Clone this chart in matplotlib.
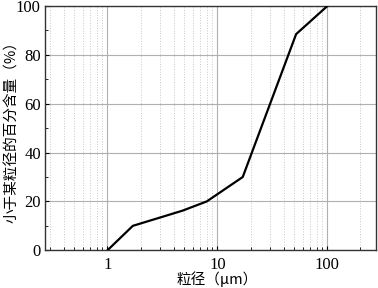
import matplotlib
matplotlib.use("Agg")
import matplotlib.pyplot as plt
from matplotlib.ticker import LogLocator, FixedLocator, NullFormatter, FixedFormatter

size_um = [1, 1.7, 4.8, 8, 17, 52, 100]
percent = [0, 10, 16.2, 20, 30, 88.5, 100]
x_ticks = [1, 10, 100]
x_tick_labels = ["1", "10", "100"]
y_ticks = [0, 20, 40, 60, 80, 100]
y_tick_labels = ["0", "20", "40", "60", "80", "100"]
x_label = "粒径（μm）"
y_label = "小于某粒径的百分含量（%）"

fig = plt.figure(figsize=(3.78, 2.88), dpi=100)
ax = fig.add_axes([0.119, 0.131, 0.877, 0.848])
ax.set_xscale("log")
ax.set_xlim(0.27, 280)
ax.set_ylim(0, 100)

ax.plot(size_um, percent, color="black", lw=1.6, zorder=3)

ax.xaxis.set_major_locator(FixedLocator(x_ticks))
ax.xaxis.set_major_formatter(FixedFormatter(x_tick_labels))
ax.xaxis.set_minor_locator(LogLocator(base=10, subs=[2, 3, 4, 5, 6, 7, 8, 9], numticks=20))
ax.xaxis.set_minor_formatter(NullFormatter())
ax.yaxis.set_major_locator(FixedLocator(y_ticks))
ax.yaxis.set_major_formatter(FixedFormatter(y_tick_labels))
ax.yaxis.set_minor_locator(FixedLocator([10, 30, 50, 70, 90]))

ax.grid(which="major", axis="both", color="#b0b0b0", lw=0.8, ls="-")
ax.grid(which="minor", axis="x", color="#c8c8c8", lw=0.7, ls=":")

ax.tick_params(which="both", direction="in", top=False, right=False, color="black")
ax.tick_params(which="major", length=3, width=0.8)
ax.tick_params(which="minor", length=2, width=0.6)
ax.tick_params(axis="x", labelsize=12, pad=5)
ax.tick_params(axis="y", labelsize=12, pad=3)
for lbl in ax.get_xticklabels() + ax.get_yticklabels():
    lbl.set_fontfamily("Liberation Serif")

for s in ax.spines.values():
    s.set_color("#333333")
    s.set_linewidth(1.0)

ax.set_xlabel(x_label, fontsize=10.5, family=["Noto Sans CJK SC", "DejaVu Sans"])
ax.xaxis.set_label_coords(0.52, -0.152)
ax.xaxis.label.set_va("bottom")
ax.set_ylabel(y_label, fontsize=10.5, family=["Noto Sans CJK SC", "DejaVu Sans"])
ax.yaxis.set_label_coords(-0.078, 0.5)

fig.savefig("out.png", dpi=100)
